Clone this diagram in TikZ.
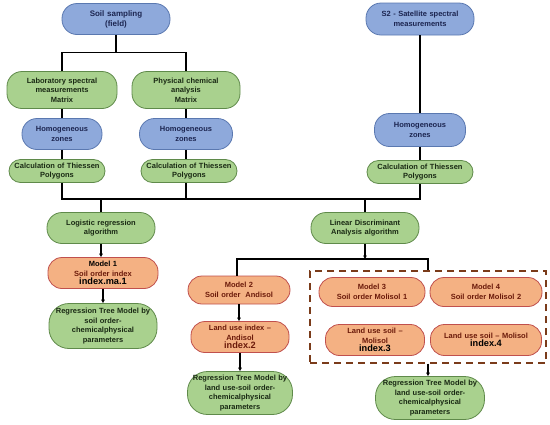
\documentclass[tikz,border=0pt]{standalone}
\usepackage{fontspec}
\setmainfont{Liberation Sans}
\usetikzlibrary{arrows.meta,fit}
\definecolor{bfill}{HTML}{8EA9DB}
\definecolor{bdraw}{HTML}{5A78B0}
\definecolor{btext}{HTML}{1C2550}
\definecolor{gfill}{HTML}{A9D18E}
\definecolor{gdraw}{HTML}{5F8A4A}
\definecolor{gtext}{HTML}{1A2A14}
\definecolor{ofill}{HTML}{F4B183}
\definecolor{odraw}{HTML}{C0504D}
\definecolor{otext}{HTML}{6B1A0A}
\definecolor{boxc}{HTML}{7A3B1A}
\newcommand\idxfont{\fontsize{9.2}{10}\selectfont\bfseries}
\tikzset{
  x=1pt, y=-1pt,
  base/.style={rounded corners=#1, inner sep=1pt, align=center, line width=0.8pt,
     font=\fontsize{7.5}{9.5}\selectfont\bfseries},
  bnode/.style={base=15pt, fill=bfill, draw=bdraw, text=btext},
  gnode/.style={base=15pt, fill=gfill, draw=gdraw, text=gtext},
  onode/.style={base=14pt, fill=ofill, draw=odraw, text=otext},
  topfont/.style={font=\fontsize{8}{10}\selectfont\bfseries},
  regfont/.style={font=\fontsize{7.1}{9.2}\selectfont\bfseries},
  sz/.style 2 args={minimum width=#1pt, minimum height=#2pt, text width=#1pt-8pt},
  conn/.style={line width=1.1pt, black},
  arr/.style={conn, -{Triangle[length=3.5pt,width=3.5pt]}}
}
\begin{document}
\begin{tikzpicture}
\useasboundingbox (0,0) rectangle (550,424);
% top row
\node[bnode, topfont, sz={108}{31}] (soil) at (116,19) {Soil sampling\\(field)};
\node[bnode, sz={108}{32}] (s2) at (420,19) {S2 - Satellite spectral\\measurements};
\node[gnode, sz={110}{37}] (lab) at (62,90) {Laboratory spectral\\measurements\\Matrix};
\node[gnode, sz={108}{37}] (phys) at (186,90) {Physical chemical\\analysis\\Matrix};
\node[bnode, sz={80}{31}] (hz1) at (62,134) {Homogeneous\\zones};
\node[bnode, sz={93}{31}] (hz2) at (186,134) {Homogeneous\\zones};
\node[bnode, sz={91}{33}] (hz3) at (420,130) {Homogeneous\\zones};
\node[gnode, sz={96}{23}, base=11.5pt] (calc1) at (57,171) {Calculation of Thiessen\\Polygons};
\node[gnode, sz={96}{23}, base=11.5pt] (calc2) at (189,171) {Calculation of Thiessen\\Polygons};
\node[gnode, sz={106}{23}, base=11.5pt] (calc3) at (420,172) {Calculation of Thiessen\\Polygons};
% algorithms
\node[gnode, sz={108}{31}] (logit) at (101,228) {Logistic regression\\algorithm};
\node[gnode, sz={108}{31}] (lda) at (365,228) {Linear Discriminant\\Analysis algorithm};
% models
\node[onode, sz={110}{31}, text=black] (m1) at (103,273) {Model 1\\{\color{otext}Soil order index}\\[-1.5pt]{\idxfont index.ma.1}};
\node[gnode, regfont, sz={108}{45}, base=20pt] (reg1) at (103,326) {Regression Tree Model by\\soil order-\\chemicalphysical\\parameters};
\node[onode, sz={102}{28}] (m2) at (239,290) {Model 2\\Soil order\ \ Andisol};
\node[onode, sz={98}{31}] (lu2) at (240,337) {Land use index --\\Andisol\\[-1.5pt]{\idxfont index.2}};
\node[gnode, regfont, sz={105}{43}, base=20pt] (reg2) at (240,393) {Regression Tree Model by\\land use-soil order-\\chemicalphysical\\parameters};
\node[onode, sz={106}{29}] (m3) at (372,292) {Model 3\\Soil order Molisol 1};
\node[onode, sz={112}{29}] (m4) at (486,292) {Model 4\\Soil order Molisol 2};
\node[onode, sz={99}{31}] (lu3) at (375,340) {Land use soil --\\Molisol\\[-1.5pt]{\idxfont\color{black} index.3}};
\node[onode, sz={111}{31}] (lu4) at (486,340) {Land use soil -- Molisol\\[-1pt]{\idxfont\color{black} index.4}};
\node[draw=boxc, dash pattern=on 7pt off 5pt, line width=1.1pt, inner sep=0pt,
      minimum width=236pt, minimum height=92pt] (box) at (428,317) {};
\node[gnode, regfont, sz={109}{43}, base=20pt] (reg3) at (430,398) {Regression Tree Model by\\land use-soil order-\\chemicalphysical\\parameters};
% connectors top
\draw[conn] (soil.south) -- ++(0,18) coordinate (j1);
\draw[conn] (lab.north) |- (j1) -| (phys.north);
\draw[conn] (lab.south) -- (hz1.north);
\draw[conn] (phys.south) -- (hz2.north);
\draw[conn] (s2.south) -- (hz3.north);
\draw[conn] (hz1.south) -- (hz1.south |- calc1.north);
\draw[conn] (hz2.south) -- (hz2.south |- calc2.north);
\draw[conn] (hz3.south) -- (calc3.north);
\coordinate (bus) at (0,199);
\draw[conn] (hz1.south |- calc1.south) -- (hz1.south |- bus) -- (calc3.south |- bus) -- (calc3.south);
\draw[conn] (hz2.south |- calc2.south) -- (hz2.south |- bus);
\draw[conn] (logit.north) -- (logit.north |- bus);
\draw[conn] (lda.north) -- (lda.north |- bus);
% arrows
\draw[arr] (logit.south) -- (logit.south |- m1.north);
\draw[arr] (m1.south) -- (reg1.north);
\coordinate (j2) at (365,259);
\draw[arr] (lda.south) -- (j2);
\coordinate (m2top) at (237,259);
\draw[conn] (m2top |- m2.north) -- (m2top) -- (j2) -| (box.north);
\draw[arr] (m2.south) -- (m2.south |- lu2.north);
\draw[arr] (lu2.south) -- (lu2.south |- reg2.north);
\draw[arr] (box.south) -- (box.south |- reg3.north);
\end{tikzpicture}
\end{document}
